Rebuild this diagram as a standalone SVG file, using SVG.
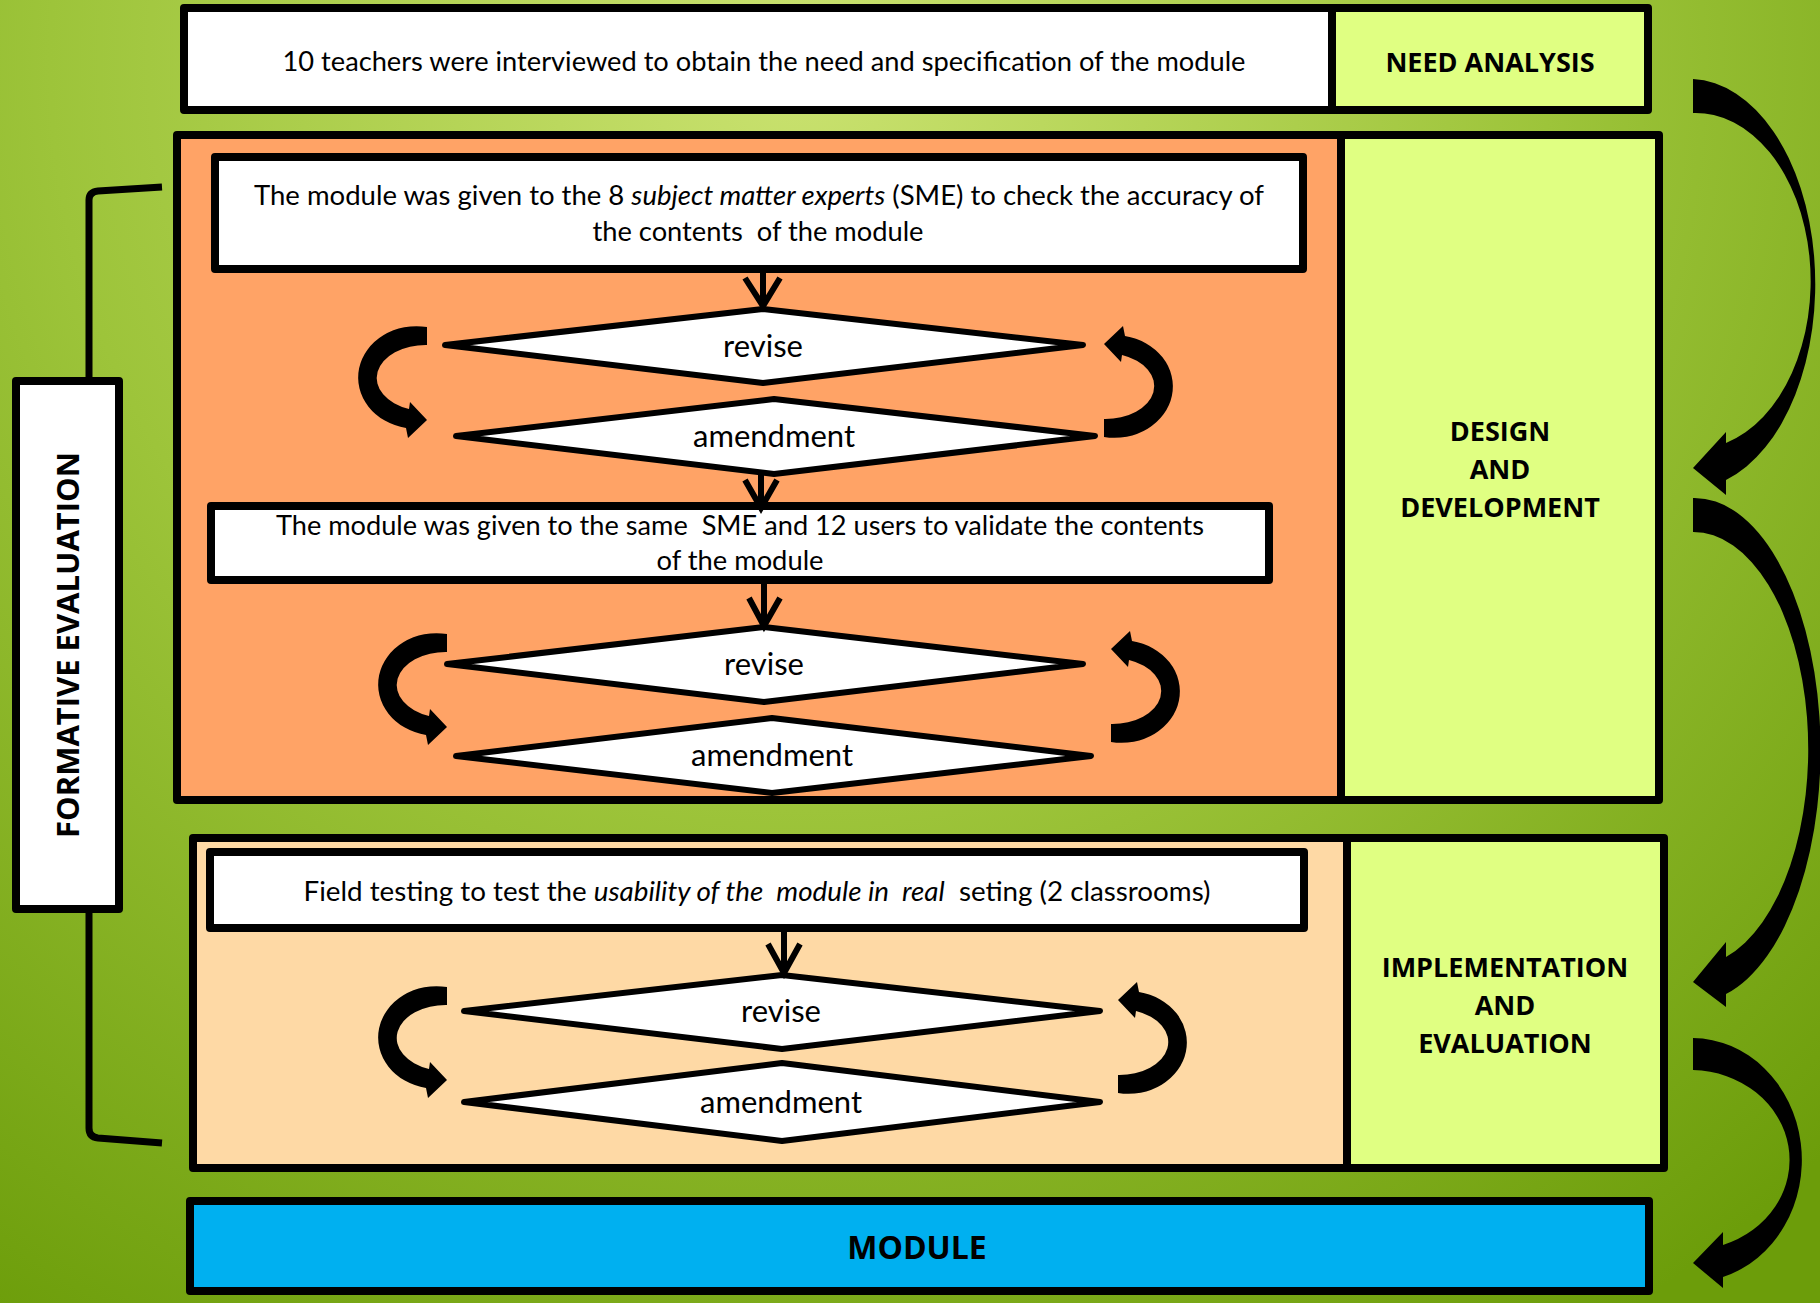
<svg xmlns="http://www.w3.org/2000/svg" width="1820" height="1303" viewBox="0 0 1820 1303">
<defs>
<radialGradient id="bg" gradientUnits="userSpaceOnUse" cx="800" cy="60" r="1500">
<stop offset="0" stop-color="#cae270"/>
<stop offset="0.5" stop-color="#9dc43a"/>
<stop offset="1" stop-color="#6c9d0a"/>
</radialGradient>
<path id="loopL" d="M 0 0 A 58 51 0 0 0 -21 101 L -19 111 L 0 93 L -17 75 L -18 82 A 49 33 0 0 1 0 18 Z"/>
</defs>
<style>
.box{stroke:#000;stroke-width:8;stroke-linejoin:round}
.dia{fill:#fff;stroke:#000;stroke-width:6;stroke-linejoin:round}
.body{font-family:Lato,"Liberation Sans",sans-serif;font-size:27px;fill:#000;text-anchor:middle}
.dtxt{font-family:Lato,"Liberation Sans",sans-serif;font-size:31px;fill:#000;text-anchor:middle}
.lab{font-family:"Open Sans","Liberation Sans",sans-serif;font-weight:bold;font-size:27px;fill:#000;text-anchor:middle}
.conn{fill:none;stroke:#000;stroke-width:6}
.it{font-style:italic}
</style>
<rect x="0" y="0" width="1820" height="1303" fill="url(#bg)"/>

<g id="bracket">
<path d="M 162 187 L 98 191 Q 89 192 89 200 L 89 1128 Q 89 1137 98 1138 L 162 1143" fill="none" stroke="#000" stroke-width="7"/>
</g>

<g id="need-analysis">
<rect x="184" y="8" width="1148" height="102" fill="#fff"/>
<rect x="1332" y="8" width="316" height="102" fill="#e0ff82"/>
<rect class="box" x="184" y="8" width="1464" height="102" fill="none"/>
<line x1="1332" y1="8" x2="1332" y2="110" stroke="#000" stroke-width="8"/>
<text class="body" x="764" y="71" textLength="963" lengthAdjust="spacingAndGlyphs">10 teachers were interviewed to obtain the need and specification of the module</text>
<text class="lab" x="1490" y="72">NEED ANALYSIS</text>
</g>

<g id="design-development">
<rect x="177" y="135" width="1164" height="665" fill="#ffa366"/>
<rect x="1341" y="135" width="318" height="665" fill="#e0ff82"/>
<rect class="box" x="177" y="135" width="1482" height="665" fill="none"/>
<line x1="1341" y1="135" x2="1341" y2="800" stroke="#000" stroke-width="8"/>
<text class="lab" x="1500" y="441">DESIGN</text>
<text class="lab" x="1500" y="479">AND</text>
<text class="lab" x="1500" y="517">DEVELOPMENT</text>
</g>

<g id="sme-check">
<rect class="box" x="215" y="157" width="1088" height="112" fill="#fff"/>
<text class="body" x="759" y="205" textLength="1010" lengthAdjust="spacingAndGlyphs" xml:space="preserve">The module was given to the 8 <tspan class="it">subject matter experts</tspan> (SME) to check the accuracy of</text>
<text class="body" x="758" y="241" textLength="331" lengthAdjust="spacingAndGlyphs" xml:space="preserve">the contents  of the module</text>
</g>

<g id="revise-1">
<polygon class="dia" points="445,345 763,309 1083,345 763,383"/>
<text class="dtxt" x="763" y="357">revise</text>
</g>
<g id="amendment-1">
<polygon class="dia" points="456,436 774,399 1095,436 774,474"/>
<text class="dtxt" x="774" y="447">amendment</text>
</g>

<g id="sme-users-validate">
<rect class="box" x="211" y="506" width="1058" height="74" fill="#fff"/>
<text class="body" x="740" y="535" textLength="928" lengthAdjust="spacingAndGlyphs" xml:space="preserve">The module was given to the same  SME and 12 users to validate the contents</text>
<text class="body" x="740" y="570" textLength="167" lengthAdjust="spacingAndGlyphs">of the module</text>
</g>

<g id="revise-2">
<polygon class="dia" points="447,664 764,627 1083,664 764,702"/>
<text class="dtxt" x="764" y="675">revise</text>
</g>
<g id="amendment-2">
<polygon class="dia" points="456,756 772,718 1091,756 772,793"/>
<text class="dtxt" x="772" y="766">amendment</text>
</g>

<g id="implementation-evaluation">
<rect x="193" y="838" width="1154" height="330" fill="#fed9a5"/>
<rect x="1347" y="838" width="317" height="330" fill="#e0ff82"/>
<rect class="box" x="193" y="838" width="1471" height="330" fill="none"/>
<line x1="1347" y1="838" x2="1347" y2="1168" stroke="#000" stroke-width="8"/>
<text class="lab" x="1505" y="977">IMPLEMENTATION</text>
<text class="lab" x="1505" y="1015">AND</text>
<text class="lab" x="1505" y="1053">EVALUATION</text>
</g>

<g id="field-testing">
<rect class="box" x="210" y="852" width="1094" height="76" fill="#fff"/>
<text class="body" x="757" y="901" textLength="907" lengthAdjust="spacingAndGlyphs" xml:space="preserve">Field testing to test the <tspan class="it">usability of the  module in  real</tspan>  seting (2 classrooms)</text>
</g>

<g id="revise-3">
<polygon class="dia" points="464,1011 782,975 1100,1011 782,1049"/>
<text class="dtxt" x="781" y="1022">revise</text>
</g>
<g id="amendment-3">
<polygon class="dia" points="464,1102 782,1063 1100,1102 782,1141"/>
<text class="dtxt" x="781" y="1113">amendment</text>
</g>

<g id="module">
<rect class="box" x="190" y="1201" width="1459" height="90" fill="#00b0f0"/>
<text class="lab" x="917" y="1259" style="font-size:32px">MODULE</text>
</g>

<g id="formative-evaluation">
<rect class="box" x="16" y="381" width="103" height="528" fill="#fff"/>
<text class="lab" transform="translate(79,645) rotate(-90)" x="0" y="0" style="font-size:31px">FORMATIVE EVALUATION</text>
</g>

<g id="connectors">
<path class="conn" d="M 763 273 L 763 306 M 745 278 L 763 306 L 780 278"/>
<path class="conn" d="M 761 470 L 761 508 M 745 480 L 761 508 L 777 480"/>
<path class="conn" d="M 764 584 L 764 626 M 749 598 L 764 626 L 780 598"/>
<path class="conn" d="M 784 932 L 784 973 M 768 944 L 784 973 L 800 944"/>
<use href="#loopL" transform="translate(427,327)"/>
<use href="#loopL" transform="translate(1104,437) rotate(180)"/>
<use href="#loopL" transform="translate(447,634)"/>
<use href="#loopL" transform="translate(1111,742) rotate(180)"/>
<use href="#loopL" transform="translate(447,987)"/>
<use href="#loopL" transform="translate(1118,1093) rotate(180)"/>
<path d="M 1693 79 A 126 205 0 0 1 1726 480 L 1726 495 L 1693 468 L 1726 432 L 1726 443 A 115 168 0 0 0 1693 113 Z"/>
<path d="M 1693 498 A 126 252 0 0 1 1726 994 L 1726 1007 L 1693 982 L 1726 942 L 1726 957 A 115 217 0 0 0 1693 532 Z"/>
<path d="M 1693 1038 A 110 122 0 0 1 1723 1277 L 1723 1288 L 1693 1263 L 1723 1232 L 1723 1245 A 99 90 0 0 0 1693 1070 Z"/>
</g>
</svg>
